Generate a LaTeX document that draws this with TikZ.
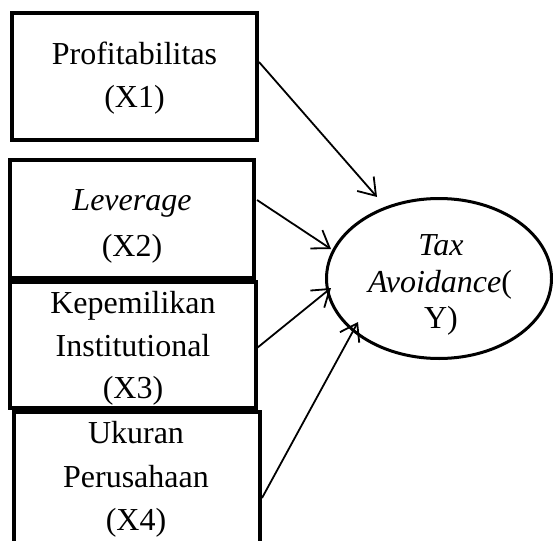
\documentclass[tikz,border=0pt]{standalone}
\usepackage{fontspec}
\setmainfont{Liberation Serif}
\usetikzlibrary{arrows.meta,shapes.geometric}
\begin{document}
\begin{tikzpicture}[x=1pt,y=-1pt,
  box/.style={draw, line width=4pt, inner sep=0pt},
  lbl/.style={anchor=base, inner sep=0pt, font=\fontsize{32}{38}\selectfont},
  conn/.style={line width=1.8pt, -{Straight Barb[length=16pt,width=22pt]}}]
\useasboundingbox (0,0) rectangle (553,540);
\clip (0,0) rectangle (553,540);
% boxes
\node[box, minimum width=245pt, minimum height=127pt] (b1) at (134.5,76.5) {};
\node[box, minimum width=244pt, minimum height=118pt] (b2) at (132,219) {};
\node[box, minimum width=246pt, minimum height=126pt] (b3) at (133,345) {};
\node[box, minimum width=246pt, minimum height=146pt] (b4) at (137,485) {};
% labels
\node[lbl] (t1a) at (134.5,65) {Profitabilitas};
\node[lbl] (t1b) at (134.5,108) {(X1)};
\node[lbl] (t2a) at (132,210) {\textit{Leverage}};
\node[lbl] (t2b) at (132,256) {(X2)};
\node[lbl] (t3a) at (133,313) {Kepemilikan};
\node[lbl] (t3b) at (133,356) {Institutional};
\node[lbl] (t3c) at (133,398) {(X3)};
\node[lbl] (t4a) at (136,443) {Ukuran};
\node[lbl] (t4b) at (136,487) {Perusahaan};
\node[lbl] (t4c) at (136,530) {(X4)};
% ellipse
\node[draw, ellipse, line width=3pt, inner sep=0pt, minimum width=225pt, minimum height=160pt] (y) at (439,278.5) {};
\node[lbl] (ya) at (441,255) {\textit{Tax}};
\node[lbl] (yb) at (440,292) {\textit{Avoidance}(};
\node[lbl] (yc) at (441,328) {Y)};
% connector end points
\coordinate (s1) at (259,62);
\coordinate (e1) at (377,197);
\coordinate (s2) at (257,200);
\coordinate (e2) at (331,249);
\coordinate (s3) at (257,348);
\coordinate (e3) at (331,288);
\coordinate (s4) at (262,498);
\coordinate (e4) at (358,322);
\draw[conn] (s1) -- (e1);
\draw[conn] (s2) -- (e2);
\draw[conn] (s3) -- (e3);
\draw[conn] (s4) -- (e4);
\end{tikzpicture}
\end{document}
